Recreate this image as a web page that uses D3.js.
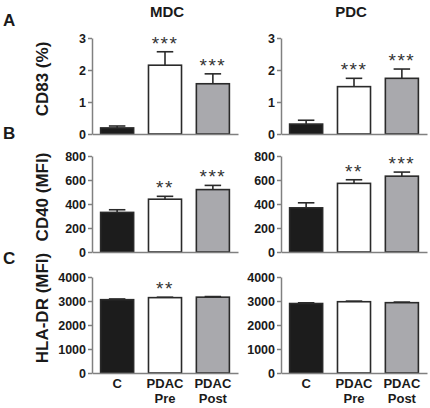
<!DOCTYPE html>
<html>
<head>
<meta charset="utf-8">
<script src="https://cdn.jsdelivr.net/npm/d3@7"></script>
<style>
  html, body { margin: 0; padding: 0; background: #fff; }
  svg { display: block; font-family: "Liberation Sans", Arial, sans-serif; }
</style>
</head>
<body>
<svg id="chart" width="430" height="408"></svg>
<script>
// ---- data ----
const groups = ["C", "PDAC Pre", "PDAC Post"];
const groupLines = [["C"], ["PDAC", "Pre"], ["PDAC", "Post"]];
const columnTitles = ["MDC", "PDC"];
const rowLetters = ["A", "B", "C"];
const rowLabels = ["CD83 (%)", "CD40 (MFI)", "HLA-DR (MFI)"];

const cd83Ticks = [0, 1, 2, 3];
const cd40Ticks = [0, 200, 400, 600, 800];
const hlaTicks = [0, 1000, 2000, 3000, 4000];

const cd83Mdc = [0.19, 2.15, 1.57];
const cd83MdcSem = [0.06, 0.42, 0.31];
const cd83Pdc = [0.31, 1.48, 1.74];
const cd83PdcSem = [0.12, 0.26, 0.29];

const cd40Mdc = [330, 440, 520];
const cd40MdcSem = [22, 24, 35];
const cd40Pdc = [368, 572, 632];
const cd40PdcSem = [42, 30, 34];

const hlaMdc = [3055, 3140, 3160];
const hlaMdcSem = [30, 18, 25];
const hlaPdc = [2895, 2970, 2930];
const hlaPdcSem = [30, 25, 25];

const starsCd83Mdc = ["", "***", "***"];
const starsCd83Pdc = ["", "***", "***"];
const starsCd40Mdc = ["", "**", "***"];
const starsCd40Pdc = ["", "**", "***"];
const starsHlaMdc = ["", "**", ""];
const starsHlaPdc = ["", "", ""];

const barFills = ["#1c1c1c", "#ffffff", "#a9a9ad"];

// ---- layout ----
const svg = d3.select("#chart");
const colX = [92, 281];
const plotW = 146;
const rowY = [[134, 38], [252, 156], [373, 277]];

const rows = [
  { ticks: cd83Ticks, max: 3, cols: [[cd83Mdc, cd83MdcSem, starsCd83Mdc], [cd83Pdc, cd83PdcSem, starsCd83Pdc]] },
  { ticks: cd40Ticks, max: 800, cols: [[cd40Mdc, cd40MdcSem, starsCd40Mdc], [cd40Pdc, cd40PdcSem, starsCd40Pdc]] },
  { ticks: hlaTicks, max: 4000, cols: [[hlaMdc, hlaMdcSem, starsHlaMdc], [hlaPdc, hlaPdcSem, starsHlaPdc]] }
];

const axisColor = "#808080";
const barStroke = "#2a2a2a";

rows.forEach((row, ri) => {
  row.cols.forEach((col, ci) => {
    const [vals, sems, stars] = col;
    const x = d3.scaleBand().domain(groups).range([colX[ci], colX[ci] + plotW])
      .paddingInner(0.31).paddingOuter(0.18);
    const y = d3.scaleLinear().domain([0, row.max]).range(rowY[ri]);
    const g = svg.append("g");

    // bars
    g.selectAll("rect").data(groups).join("rect")
      .attr("x", d => x(d))
      .attr("y", (d, i) => y(vals[i]))
      .attr("width", x.bandwidth())
      .attr("height", (d, i) => y(0) - y(vals[i]))
      .attr("fill", (d, i) => barFills[i])
      .attr("stroke", barStroke)
      .attr("stroke-width", 1.6);

    // error bars (upper only)
    const cap = x.bandwidth() / 2;
    groups.forEach((d, i) => {
      const cx = x(d) + x.bandwidth() / 2;
      const top = y(vals[i] + sems[i]);
      g.append("line").attr("x1", cx).attr("x2", cx)
        .attr("y1", y(vals[i])).attr("y2", top)
        .attr("stroke", barStroke).attr("stroke-width", 1.6);
      g.append("line").attr("x1", cx - cap / 2).attr("x2", cx + cap / 2)
        .attr("y1", top).attr("y2", top)
        .attr("stroke", barStroke).attr("stroke-width", 1.6);
      if (stars[i]) {
        g.append("text").attr("x", cx).attr("y", top - 2)
          .attr("text-anchor", "middle")
          .attr("font-size", 19)
          .attr("letter-spacing", 1.5)
          .attr("fill", "#333")
          .text(stars[i]);
      }
    });

    // y axis
    const ya = g.append("g").attr("transform", `translate(${colX[ci]},0)`)
      .call(d3.axisLeft(y).tickValues(row.ticks).tickFormat(d3.format("d"))
        .tickSize(4).tickSizeOuter(0).tickPadding(2));
    ya.select(".domain").attr("stroke", axisColor).attr("stroke-width", 1.5);
    ya.selectAll(".tick line").attr("stroke", axisColor).attr("stroke-width", 1.5);
    ya.selectAll(".tick text").attr("font-size", 12.5).attr("font-weight", "bold")
      .attr("fill", "#1a1a1a").attr("font-family", "Liberation Sans, Arial, sans-serif");

    // x axis baseline
    const xa = g.append("g").attr("transform", `translate(0,${y(0)})`)
      .call(d3.axisBottom(x).tickSize(0).tickSizeOuter(0).tickFormat(""));
    xa.select(".domain").attr("stroke", axisColor).attr("stroke-width", 1.5);

    // category labels on bottom row
    if (ri === rows.length - 1) {
      groups.forEach((d, i) => {
        const cx = x(d) + x.bandwidth() / 2;
        const t = g.append("text").attr("x", cx).attr("y", 388)
          .attr("text-anchor", "middle").attr("font-size", 13).attr("font-weight", "bold")
          .attr("fill", "#1a1a1a");
        groupLines[i].forEach((ln, li) => {
          t.append("tspan").attr("x", cx).attr("dy", li === 0 ? 0 : 15).text(ln);
        });
      });
    }
  });

  // row label (y title)
  const centers = [79, 197, 308];
  svg.append("text")
    .attr("transform", `translate(48,${centers[ri]}) rotate(-90)`)
    .attr("text-anchor", "middle").attr("font-size", 17).attr("font-weight", "bold")
    .attr("fill", "#1a1a1a").text(rowLabels[ri]);
});

// panel letters
const letterY = [26, 139, 264];
rowLetters.forEach((l, i) => {
  svg.append("text").attr("x", 3).attr("y", letterY[i])
    .attr("font-size", 17).attr("font-weight", "bold").attr("fill", "#1a1a1a").text(l);
});

// column titles
const titleX = [167, 351];
columnTitles.forEach((t, i) => {
  svg.append("text").attr("x", titleX[i]).attr("y", 17)
    .attr("text-anchor", "middle").attr("font-size", 15).attr("font-weight", "bold")
    .attr("fill", "#1a1a1a").text(t);
});
</script>
</body>
</html>
